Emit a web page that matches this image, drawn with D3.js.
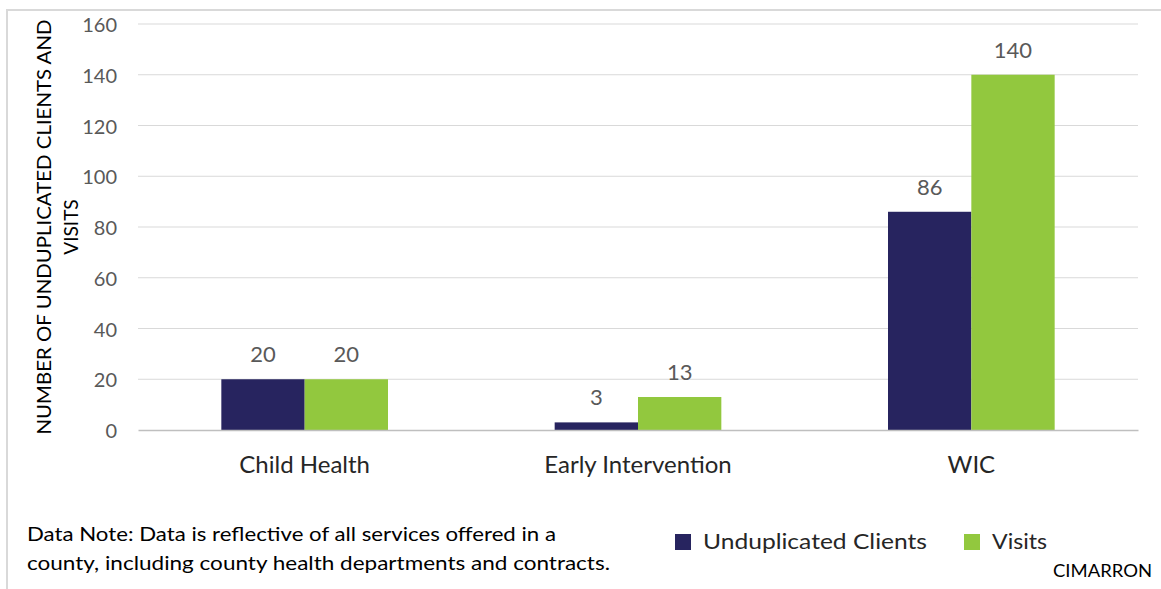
<!DOCTYPE html>
<html>
<head>
<meta charset="utf-8">
<script src="https://cdn.jsdelivr.net/npm/d3@7"></script>
<style>
  html, body { margin: 0; padding: 0; background: #fff; }
  svg { display: block; font-family: Lato, "Noto Sans", sans-serif; }
</style>
</head>
<body>
<svg id="chart" width="1161" height="589"></svg>
<script>
const categories = ["Child Health", "Early Intervention", "WIC"];
const seriesNames = ["Unduplicated Clients", "Visits"];
const clients = [20, 3, 86];
const visits = [20, 13, 140];
const yTicks = [0, 20, 40, 60, 80, 100, 120, 140, 160];
const colors = ["#27245f", "#92c83e"];

const svg = d3.select("#chart");
const W = 1161, H = 589;

// frame
svg.append("path")
  .attr("d", `M7,${H} L7,10 L${W},10`)
  .attr("fill", "none").attr("stroke", "#d9d9d9").attr("stroke-width", 2);

const plotL = 138, plotR = 1138, plotT = 24, plotB = 430;
const x0 = d3.scaleBand().domain(categories).range([plotL, plotR]).padding(0);
const bw = x0.bandwidth();
const x1 = d3.scaleBand().domain(seriesNames).range([bw * 0.25, bw * 0.75]).padding(0);
const y = d3.scaleLinear().domain([0, 160]).range([plotB, plotT]);

// gridlines
svg.append("g").selectAll("line").data(yTicks.filter(t => t > 0)).join("line")
  .attr("x1", plotL).attr("x2", plotR)
  .attr("y1", d => y(d)).attr("y2", d => y(d))
  .attr("stroke", "#d9d9d9").attr("stroke-width", 1);

// y axis labels
const yAxis = d3.axisLeft(y).tickValues(yTicks).tickSize(0).tickPadding(0);
const gy = svg.append("g").attr("transform", `translate(117,0)`).call(yAxis);
gy.select(".domain").remove();
gy.selectAll("text").attr("fill", "#595959").attr("dy", "0.38em").style("font-size", "20px")
  .style("font-family", "Lato, 'Noto Sans', sans-serif");

// bars
const data = categories.map((c, i) => ({cat: c, vals: [clients[i], visits[i]]}));
const groups = svg.append("g").selectAll("g").data(data).join("g")
  .attr("transform", d => `translate(${x0(d.cat)},0)`);
groups.selectAll("rect").data(d => d.vals.map((v, j) => ({s: seriesNames[j], v, j}))).join("rect")
  .attr("x", d => x1(d.s)).attr("width", x1.bandwidth())
  .attr("y", d => y(d.v)).attr("height", d => y(0) - y(d.v))
  .attr("fill", d => colors[d.j]);
groups.selectAll("text.lbl").data(d => d.vals.map((v, j) => ({s: seriesNames[j], v, j}))).join("text")
  .attr("class", "lbl")
  .attr("x", d => x1(d.s) + x1.bandwidth() / 2)
  .attr("y", d => y(d.v) - 17)
  .attr("text-anchor", "middle")
  .attr("fill", "#595959").style("font-size", "22px")
  .text(d => d.v);

// x axis
const xAxis = d3.axisBottom(x0).tickSize(0).tickPadding(0);
const gx = svg.append("g").attr("transform", `translate(0,${plotB})`).call(xAxis);
gx.select(".domain").attr("stroke", "#bfbfbf").attr("stroke-width", 1.5);
gx.selectAll("text").attr("fill", "#262626").attr("y", 43).attr("dy", 0)
  .style("font-size", "24px").style("font-family", "Lato, 'Noto Sans', sans-serif");

// y axis title
const cy = (plotT + plotB) / 2;
svg.append("text")
  .attr("transform", `translate(51,${cy}) rotate(-90)`)
  .attr("text-anchor", "middle").attr("fill", "#000")
  .style("font-size", "19px")
  .attr("textLength", 415).attr("lengthAdjust", "spacingAndGlyphs")
  .text("NUMBER OF UNDUPLICATED CLIENTS AND");
svg.append("text")
  .attr("transform", `translate(78,${cy}) rotate(-90)`)
  .attr("text-anchor", "middle").attr("fill", "#000")
  .style("font-size", "19px")
  .text("VISITS");

// data note
svg.append("text").attr("x", 27).attr("y", 541).attr("fill", "#000")
  .style("font-size", "19px")
  .attr("textLength", 529).attr("lengthAdjust", "spacingAndGlyphs")
  .text("Data Note: Data is reflective of all services offered in a");
svg.append("text").attr("x", 27).attr("y", 570).attr("fill", "#000")
  .style("font-size", "19px")
  .attr("textLength", 583).attr("lengthAdjust", "spacingAndGlyphs")
  .text("county, including county health departments and contracts.");

// legend
const legX = [675, 964];
const legTextW = [224, 55];
const leg = svg.append("g").selectAll("g").data(seriesNames).join("g")
  .attr("transform", (d, i) => `translate(${legX[i]},534)`);
leg.append("rect").attr("width", 16).attr("height", 16).attr("fill", (d, i) => colors[i]);
leg.append("text").attr("x", 28).attr("y", 15).attr("fill", "#262626")
  .style("font-size", "22px")
  .attr("textLength", (d, i) => legTextW[i]).attr("lengthAdjust", "spacingAndGlyphs")
  .text(d => d);

svg.append("text").attr("x", 1152).attr("y", 577).attr("text-anchor", "end")
  .attr("fill", "#000").style("font-size", "17px")
  .attr("textLength", 99).attr("lengthAdjust", "spacingAndGlyphs")
  .text("CIMARRON");
</script>
</body>
</html>
